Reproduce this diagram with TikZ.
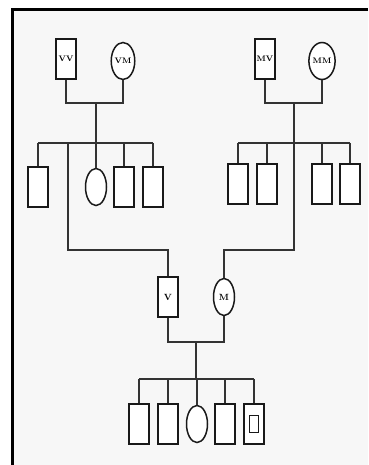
\documentclass[tikz,border=0pt]{standalone}
\usetikzlibrary{shapes.geometric}
\begin{document}
\begin{tikzpicture}[x=1pt,y=-1pt,
  male/.style={draw=black!90,line width=1.5pt,rectangle,minimum width=20pt,minimum height=40pt,inner sep=0pt,font=\footnotesize\bfseries,fill=white},
  female/.style={draw=black!90,line width=1.5pt,ellipse,minimum width=21pt,minimum height=37pt,inner sep=0pt,font=\footnotesize\bfseries,fill=white},
  link/.style={draw=black!80,line width=1.2pt}]
\useasboundingbox (0,0) rectangle (368,465);
\fill[white] (0,0) rectangle (368,465);
\fill[black!3] (12,10) rectangle (368,465);
\draw[line width=3pt] (368,10) -- (12,10) -- (12,465);
% grandparents
\node[male] (vv) at (66,59) {VV};
\node[female] (vm) at (123,61) {VM};
\node[male] (mv) at (265,59) {MV};
\node[female] (mm) at (322,61) {MM};
% left siblings
\node[male] (l1) at (38,187) {};
\node[female] (l2) at (96,187) {};
\node[male] (l3) at (124,187) {};
\node[male] (l4) at (153,187) {};
% right siblings
\node[male] (r1) at (238,184) {};
\node[male] (r2) at (267,184) {};
\node[male] (r3) at (322,184) {};
\node[male] (r4) at (350,184) {};
% parents
\node[male] (v) at (168,297) {\small V};
\node[female] (m) at (224,297) {\small M};
% children
\node[male] (k1) at (139,424) {};
\node[male] (k2) at (168,424) {};
\node[female] (k3) at (197,424) {};
\node[male] (k4) at (225,424) {};
\node[male] (k5) at (254,424) {};
\node[draw=black!90,line width=1.2pt,minimum width=9pt,minimum height=17pt,inner sep=0pt] (k5in) at (k5) {};
% coordinates
\coordinate (lm) at (96,103);
\coordinate (lb) at (96,143);
\coordinate (lv) at (68,143);
\coordinate (lvt) at (68,250);
\coordinate (rm) at (294,103);
\coordinate (rb) at (294,143);
\coordinate (rmt) at (294,250);
\coordinate (pm) at (196,342);
\coordinate (pb) at (196,379);
% left family
\draw[link] (vv) |- (lm) -| (vm);
\draw[link] (lm) -- (lb);
\draw[link] (l1 |- lb) -- (l4 |- lb);
\foreach \c in {l1,l2,l3,l4} \draw[link] (\c |- lb) -- (\c);
\draw[link] (lv) -- (lvt) -| (v);
% right family
\draw[link] (mv) |- (rm) -| (mm);
\draw[link] (rm) -- (rb);
\draw[link] (r1 |- rb) -- (r4 |- rb);
\foreach \c in {r1,r2,r3,r4} \draw[link] (\c |- rb) -- (\c);
\draw[link] (rb) -- (rmt) -| (m);
% parents' family
\draw[link] (v) |- (pm) -| (m);
\draw[link] (pm) -- (pb);
\draw[link] (k1 |- pb) -- (k5 |- pb);
\foreach \c in {k1,k2,k3,k4,k5} \draw[link] (\c |- pb) -- (\c);
\end{tikzpicture}
\end{document}
